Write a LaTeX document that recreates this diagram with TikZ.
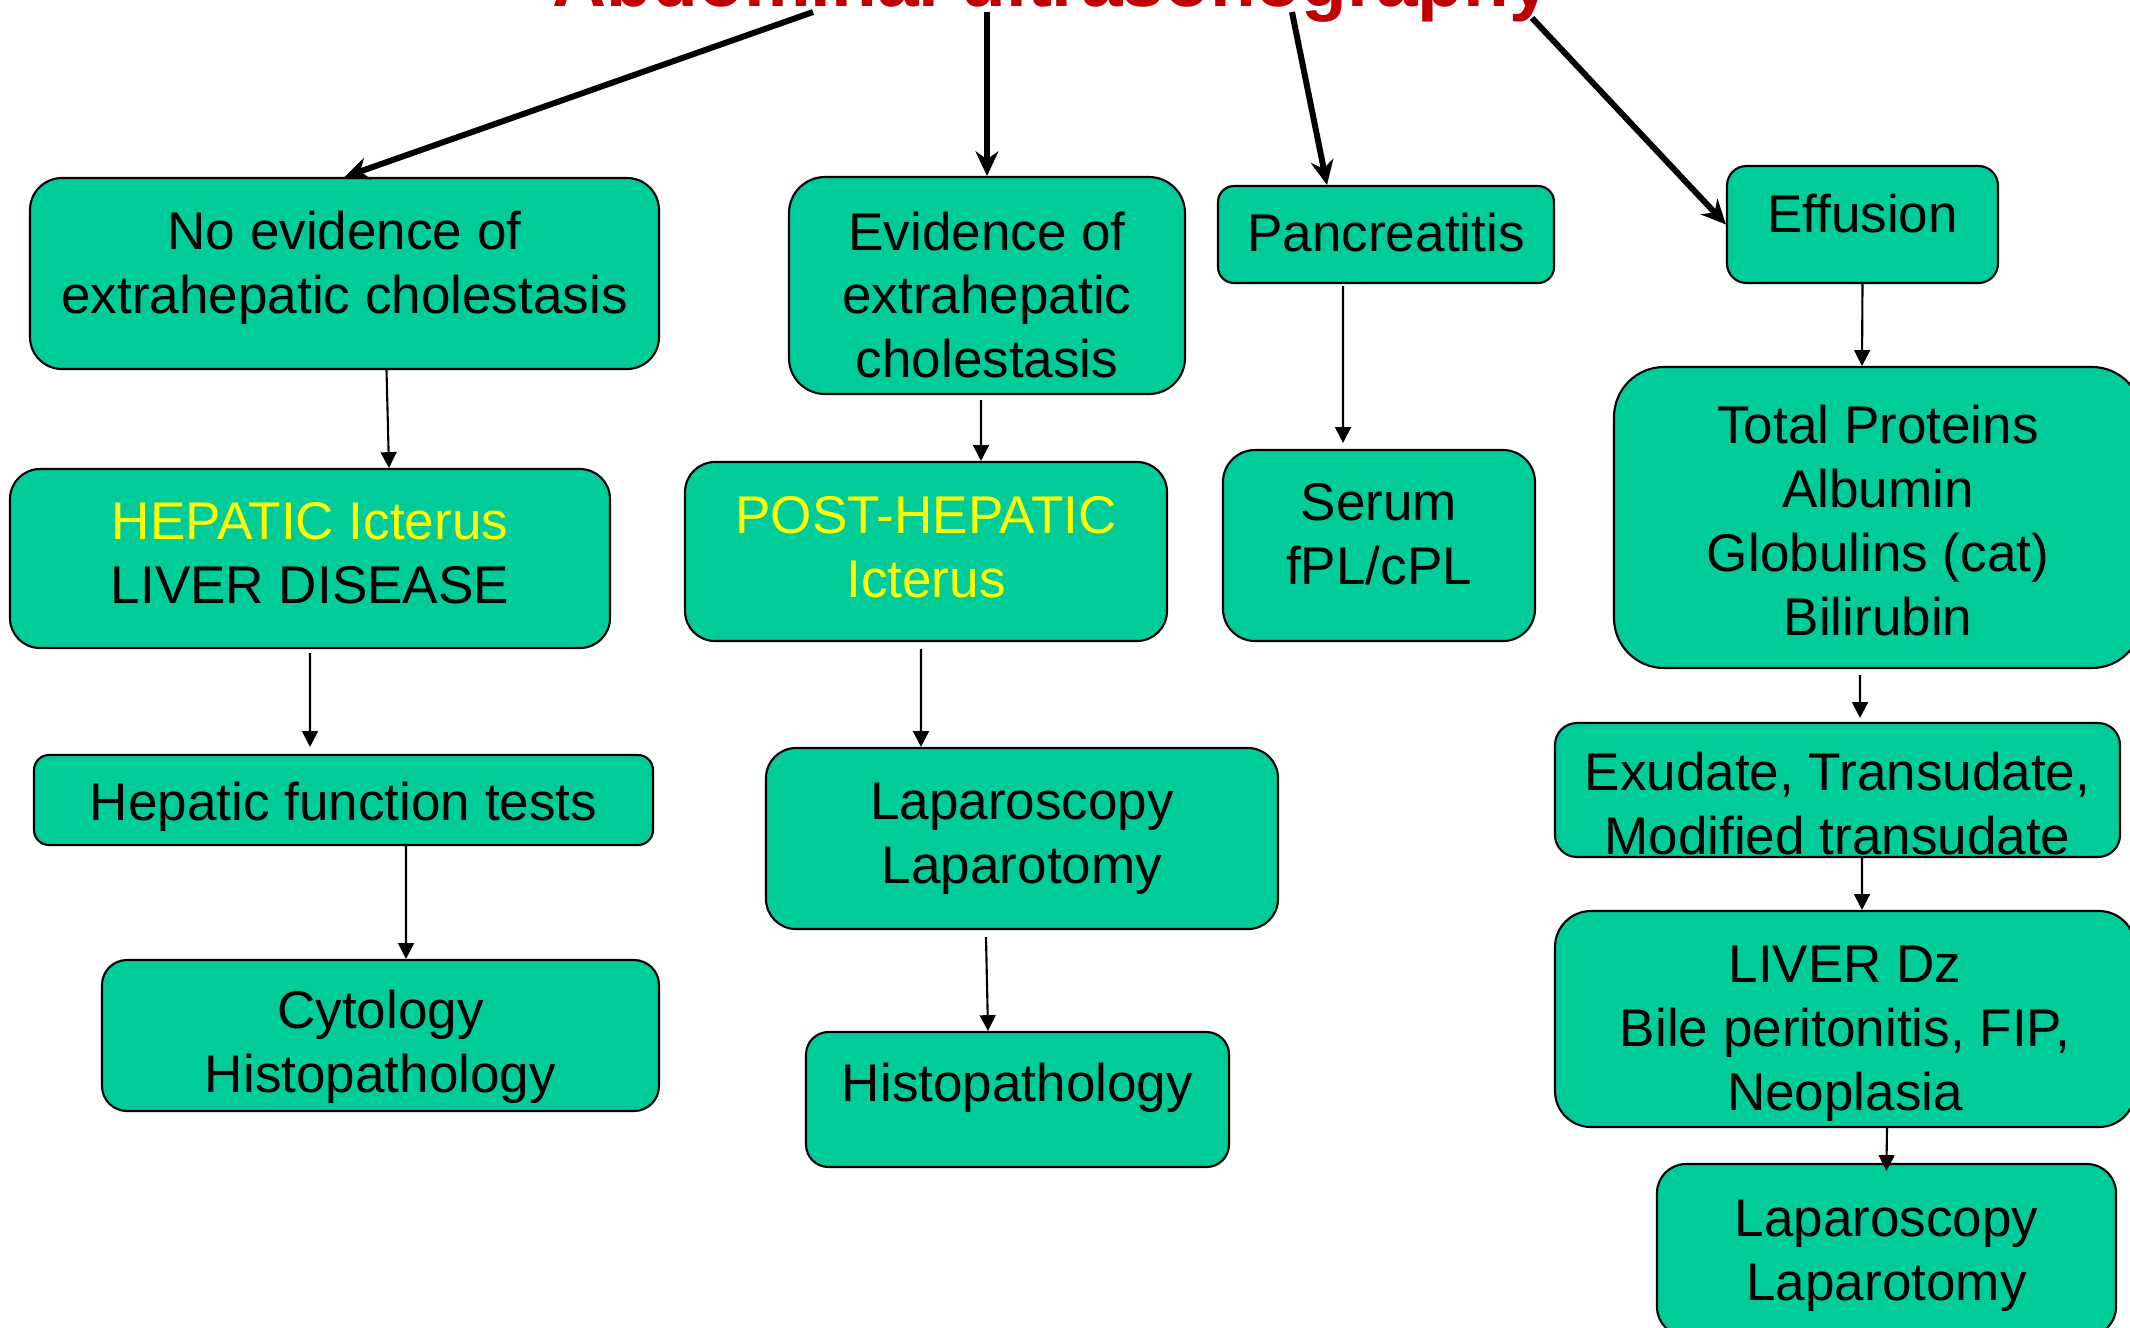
\documentclass[tikz,border=0pt]{standalone}
\usepackage{fontspec}
\setmainfont{Liberation Sans}
\usepackage{tikz}
\usetikzlibrary{arrows.meta}
\tikzset{>=Stealth}
\definecolor{boxgreen}{RGB}{0,204,153}
\definecolor{titlered}{RGB}{192,0,0}
\definecolor{icterus}{RGB}{255,255,0}
\tikzset{
    box/.style={draw, line width=0.6pt, fill=boxgreen, inner sep=0pt},
    boxtext/.style={align=center, inner sep=0pt, font=\fontsize{15.1}{18.2}\selectfont},
    bigarrow/.style={-{Stealth[length=7pt,width=6.5pt]}, line width=1.7pt},
    smallarrow/.style={-{Triangle[length=4.5pt,width=4.5pt]}, line width=0.6pt}
}

\begin{document}
\begin{tikzpicture}[]
    \useasboundingbox (0,0) rectangle (21.3,-13.27);
    \clip (0,0) rectangle (21.3,-13.27);
    \node[anchor=base,text=titlered,font=\bfseries\fontsize{21.3}{25}\selectfont] at (10.52,-0.06) (title) {Abdominal ultrasonography};
    \coordinate (s1) at (8.13,-0.12);
    \coordinate (s2) at (9.87,-0.12);
    \coordinate (s3) at (12.92,-0.12);
    \coordinate (s4) at (15.32,-0.18);
    % first row
    \node[box,minimum width=6.29cm,minimum height=1.91cm,rounded corners=0.32cm,
        label={[boxtext,yshift=0.55mm]center:{No evidence of\\extrahepatic cholestasis}}] at (3.445,-2.735) (noevid) {};
    \node[box,minimum width=3.96cm,minimum height=2.17cm,rounded corners=0.36cm,
        label={[boxtext,yshift=-0.95mm]center:{Evidence of\\extrahepatic\\cholestasis}}] at (9.87,-2.855) (evid) {};
    \node[box,minimum width=3.36cm,minimum height=0.97cm,rounded corners=0.16cm,
        label={[boxtext,yshift=0.15mm]center:{Pancreatitis}}] at (13.86,-2.345) (pancr) {};
    \node[box,minimum width=2.71cm,minimum height=1.17cm,rounded corners=0.195cm,
        label={[boxtext,yshift=1.1mm]center:{Effusion}}] at (18.625,-2.245) (effus) {};
    % second row
    \node[box,minimum width=6.00cm,minimum height=1.79cm,rounded corners=0.30cm,
        label={[boxtext,yshift=0.55mm]center:{\textcolor{icterus}{HEPATIC Icterus}\\LIVER DISEASE}}] at (3.10,-5.585) (hepatic) {};
    \node[box,minimum width=4.82cm,minimum height=1.79cm,rounded corners=0.30cm,
        label={[boxtext,text=icterus,yshift=0.4mm]center:{POST-HEPATIC\\Icterus}}] at (9.26,-5.515) (posthep) {};
    \node[box,minimum width=3.12cm,minimum height=1.91cm,rounded corners=0.32cm,
        label={[boxtext,yshift=1.1mm]center:{Serum\\fPL/cPL}}] at (13.79,-5.455) (serum) {};
    \node[box,minimum width=5.28cm,minimum height=3.01cm,rounded corners=0.50cm,
        label={[boxtext,yshift=-0.27mm]center:{Total Proteins\\Albumin\\Globulins (cat)\\Bilirubin}}] at (18.78,-5.175) (protein) {};
    % third row
    \node[box,minimum width=6.19cm,minimum height=0.90cm,rounded corners=0.15cm,
        label={[boxtext,yshift=-0.7mm]center:{Hepatic function tests}}] at (3.435,-8.00) (hepfunc) {};
    \node[box,minimum width=5.12cm,minimum height=1.81cm,rounded corners=0.30cm,
        label={[boxtext]center:{Laparoscopy\\Laparotomy}}] at (10.22,-8.385) (lapleft) {};
    \node[box,minimum width=5.65cm,minimum height=1.34cm,rounded corners=0.22cm,
        label={[boxtext,yshift=-1.36mm]center:{Exudate, Transudate,\\Modified transudate}}] at (18.375,-7.90) (exud) {};
    % fourth row
    \node[box,minimum width=5.57cm,minimum height=1.51cm,rounded corners=0.25cm,
        label={[boxtext,yshift=-1.1mm]center:{Cytology\\Histopathology}}] at (3.805,-10.355) (cyto) {};
    \node[box,minimum width=4.23cm,minimum height=1.35cm,rounded corners=0.225cm,
        label={[boxtext,yshift=1.2mm]center:{Histopathology}}] at (10.175,-10.995) (histo) {};
    \node[box,minimum width=5.80cm,minimum height=2.16cm,rounded corners=0.36cm,
        label={[boxtext,yshift=-1.5mm]center:{LIVER Dz\\Bile peritonitis, FIP,\\Neoplasia}}] at (18.45,-10.19) (liverdz) {};
    \node[box,minimum width=4.59cm,minimum height=1.72cm,rounded corners=0.29cm,
        label={[boxtext,yshift=-0.55mm]center:{Laparoscopy\\Laparotomy}}] at (18.865,-12.50) (lapright) {};
    \path[bigarrow]
    (s1) edge (noevid.north)
    (s2) edge (evid.north)
    (s3) edge ([xshift=-5.9mm]pancr.north)
    (s4) edge (effus.west)
    ;
    \path[smallarrow]
    ([xshift=4.2mm]noevid.south) edge ([xshift=7.9mm]hepatic.north)
    ([xshift=-0.6mm,yshift=-0.5mm]evid.south) edge ([xshift=5.5mm]posthep.north)
    ([xshift=-4.3mm,yshift=-0.2mm]pancr.south) edge [shorten >=0.6mm] ([xshift=-3.6mm]serum.north)
    (effus.south) edge ([xshift=-1.6mm]protein.north)
    ([yshift=-0.4mm]hepatic.south) edge [shorten >=0.7mm] ([xshift=-3.35mm]hepfunc.north)
    ([xshift=-0.5mm,yshift=-0.7mm]posthep.south) edge ([xshift=-10.1mm]lapleft.north)
    ([xshift=6.25mm]hepfunc.south) edge ([xshift=2.55mm]cyto.north)
    ([xshift=-3.6mm,yshift=-0.7mm]lapleft.south) edge ([xshift=-2.95mm]histo.north)
    ([xshift=-1.8mm,yshift=-0.6mm]protein.south) edge [shorten >=0.4mm] ([xshift=2.25mm]exud.north)
    ([xshift=2.45mm]exud.south) edge ([xshift=1.7mm]liverdz.north)
    ([xshift=4.2mm]liverdz.south) edge [shorten >=-0.8mm] (lapright.north)
    ;
\end{tikzpicture}
\end{document}
